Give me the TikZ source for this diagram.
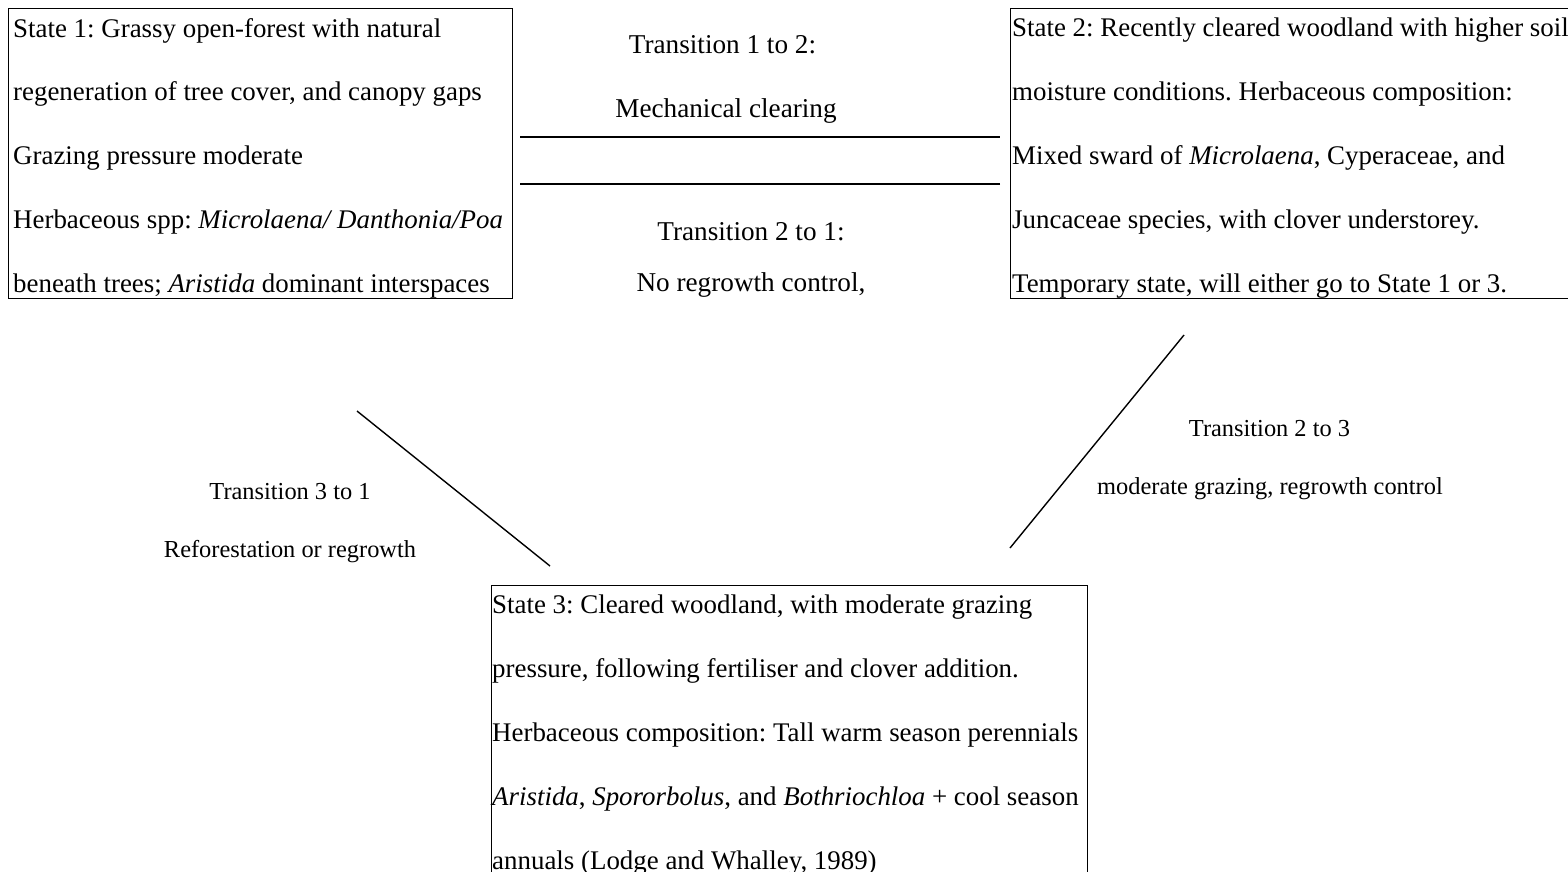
\documentclass[tikz,border=0pt]{standalone}
\usepackage{fontspec}
\setmainfont{Liberation Serif}
\begin{document}
\frenchspacing
\begin{tikzpicture}[x=1pt,y=-1pt,
  box/.style={draw, line width=1.3pt, inner sep=0pt, anchor=north west},
  boxtext/.style={anchor=north west, align=left, inner sep=0pt, font=\fontsize{26.9}{63.8}\selectfont},
  lbl/.style={anchor=base, inner sep=0pt, font=\fontsize{27.2}{32}\selectfont},
  slbl/.style={anchor=base, inner sep=0pt, font=\fontsize{24.4}{29}\selectfont},
  conn/.style={line width=1.4pt}]
\useasboundingbox (0,0) rectangle (1568,871);
\clip (0,0) rectangle (1568,871);
% boxes
\node[box, minimum width=504pt, minimum height=290pt] (s1) at (8,8) {};
\node[box, minimum width=620pt, minimum height=290pt] (s2) at (1010,8) {};
\node[box, minimum width=596pt, minimum height=320pt] (s3) at (491,585) {};
% box texts
\node[boxtext] (t1) at (13,18) {State 1: Grassy open-forest with natural\\
regeneration of tree cover, and canopy gaps\\
Grazing pressure moderate\\
Herbaceous spp: \textit{Microlaena/ Danthonia/Poa}\\
beneath trees; \textit{Aristida} dominant interspaces};
\node[boxtext] (t2) at (1012,18) {State 2: Recently cleared woodland with higher soil\\
moisture conditions. Herbaceous composition:\\
Mixed sward of \textit{Microlaena}, Cyperaceae, and\\
Juncaceae species, with clover understorey.\\
Temporary state, will either go to State 1 or 3.};
\node[boxtext] (t3) at (492,595) {State 3: Cleared woodland, with moderate grazing\\
pressure, following fertiliser and clover addition.\\
Herbaceous composition: Tall warm season perennials\\
\textit{Aristida}, \textit{Spororbolus}, and \textit{Bothriochloa} + cool season\\
annuals (Lodge and Whalley, 1989)};
% transition labels
\node[lbl] (l12a) at (722.5,53) {Transition 1 to 2:};
\node[lbl] (l12b) at (726,117) {Mechanical clearing};
\node[lbl] (l21a) at (751,240) {Transition 2 to 1:};
\node[lbl] (l21b) at (751,291) {No regrowth control,};
\node[slbl] (l31a) at (290,499) {Transition 3 to 1};
\node[slbl] (l31b) at (290,557) {Reforestation or regrowth};
\node[slbl] (l23a) at (1269.5,436) {Transition 2 to 3};
\node[slbl] (l23b) at (1270,494) {moderate grazing, regrowth control};
% connectors
\coordinate (c12a) at (520,137);
\coordinate (c12b) at (1000,137);
\coordinate (c21a) at (520,184);
\coordinate (c21b) at (1000,184);
\coordinate (c31a) at (550,566);
\coordinate (c31b) at (357,411);
\coordinate (c23a) at (1184,335);
\coordinate (c23b) at (1010,548);
\draw[conn] (c12a) -- (c12b);
\draw[conn] (c21b) -- (c21a);
\draw[conn] (c31a) -- (c31b);
\draw[conn] (c23a) -- (c23b);
\end{tikzpicture}
\end{document}
